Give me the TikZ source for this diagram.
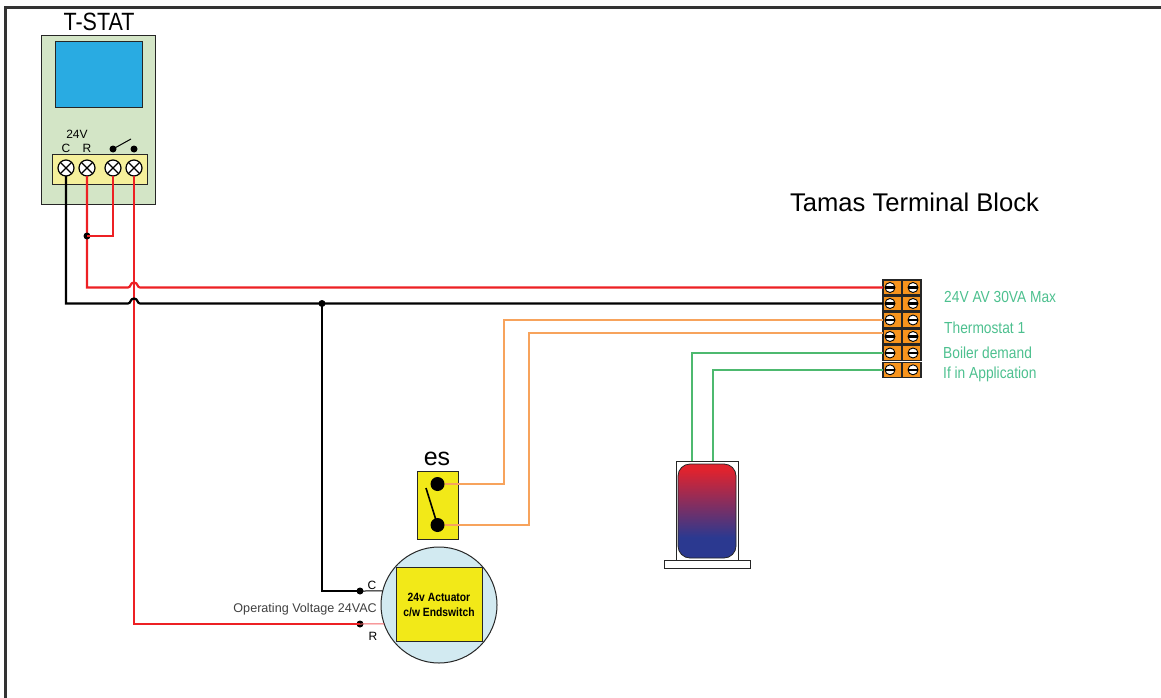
\documentclass[tikz,border=0pt]{standalone}
\usepackage{fontspec}
\setmainfont{Liberation Sans}
\newfontfamily\narrowfont[FakeStretch=0.86]{Liberation Sans}
\usepackage{xcolor}
\usetikzlibrary{positioning}
\definecolor{statgreen}{HTML}{D3E5C6}
\definecolor{screenblue}{HTML}{29ABE2}
\definecolor{stripyellow}{HTML}{F5F09B}
\definecolor{blockorange}{HTML}{F7941D}
\definecolor{wirered}{HTML}{ED2024}
\definecolor{wireorange}{HTML}{F7A35C}
\definecolor{wiregreen}{HTML}{4DB96F}
\definecolor{labelgreen}{HTML}{4DC08F}
\definecolor{partyellow}{HTML}{F2E918}
\definecolor{actblue}{HTML}{D2EAF1}
\definecolor{tankred}{HTML}{E0232E}
\definecolor{tankblue}{HTML}{2B3990}
\pgfdeclareverticalshading{tankshade}{100bp}{color(0bp)=(tankblue); color(36bp)=(tankblue); color(72bp)=(tankred); color(100bp)=(tankred)}

\begin{document}
\begin{tikzpicture}[x=1pt,y=-1pt,
    panel/.style={draw=black!85,line width=1pt,inner sep=0pt,outer sep=0pt},
    crossscrew/.style={circle,draw=black,fill=white,line width=1.2pt,minimum size=16pt,inner sep=0pt,outer sep=0pt},
    slotscrew/.style={circle,draw=black,fill=white,line width=0.9pt,minimum size=10pt,inner sep=0pt,outer sep=0pt},
    blockcell/.style={panel,fill=blockorange,line width=1.1pt,minimum width=19pt,minimum height=15pt},
    joint/.style={circle,fill=black,minimum size=#1,inner sep=0pt,outer sep=0pt},
    redwire/.style={draw=wirered,line width=2.2pt},
    blackwire/.style={draw=black,line width=2.2pt},
    orangewire/.style={draw=wireorange,line width=1.5pt},
    greenwire/.style={draw=wiregreen,line width=1.5pt},
    greenlabel/.style={text=labelgreen,anchor=west,inner sep=0pt,font=\narrowfont\fontsize{16}{18}\selectfont},
    smalltext/.style={inner sep=0pt,font=\fontsize{12}{14}\selectfont}]
    \useasboundingbox (0,0) rectangle (1161,698);

    % Outer frame
    \draw[black!80,line width=3pt] (5.3,698) -- (5.3,7.3) -- (1161,7.3);

    % Thermostat
    \node[panel,fill=statgreen,minimum width=114pt,minimum height=169pt] (tstat) at (98,120) {};
    \node[panel,fill=screenblue,minimum width=87pt,minimum height=66pt] (screen) at (98.5,74.5) {};
    \node[panel,fill=stripyellow,minimum width=95pt,minimum height=30pt] (strip) at (99.5,169) {};
    \node[inner sep=0pt,font=\narrowfont\fontsize{25}{27}\selectfont] (tstatlabel) at (99,21.5) {T-STAT};
    \node[smalltext] (lab24) at (77,134) {24V};
    \node[smalltext] (labC) at (66,148) {C};
    \node[smalltext] (labR) at (87,148) {R};
    \node[joint=7pt] (swA) at (113,149) {};
    \node[joint=7pt] (swB) at (134,149) {};
    \draw[black,line width=1pt] (swA.center) -- (131,139);

    % Terminal block
    \foreach \n/\y in {1/287.5,2/303.5,3/320,4/336.5,5/353,6/369.8} {
        \node[blockcell] (tbL\n) at (892.5,\y) {};
        \node[blockcell] (tbR\n) at (911.5,\y) {};
    }
    \node[inner sep=0pt,font=\fontsize{25.6}{28}\selectfont] (tblabel) at (914.5,202) {Tamas Terminal Block};
    \node[greenlabel] (lab30va) at (944,297) {24V AV 30VA Max};
    \node[greenlabel] (labtherm) at (944,328) {Thermostat 1};
    \node[greenlabel] (labboiler) at (943,353) {Boiler demand};
    \node[greenlabel] (labapp) at (943,374) {If in Application};

    % End switch
    \node[panel,fill=partyellow,minimum width=41pt,minimum height=68pt] (es) at (437.5,505) {};
    \node[inner sep=0pt,font=\fontsize{25}{27}\selectfont] (eslabel) at (437,459) {es};
    \node[joint=14pt] (esA) at (437.5,484) {};
    \node[joint=14pt] (esB) at (437.5,525) {};
    \draw[black,line width=1.6pt] (426,488) -- (esB.center);

    % Actuator
    \node[circle,draw=black!85,fill=actblue,line width=1pt,minimum size=116pt,inner sep=0pt,outer sep=0pt] (act) at (439,605) {};
    \node[panel,fill=partyellow,minimum width=86pt,minimum height=74pt,align=center,
        font=\narrowfont\bfseries\fontsize{12}{15}\selectfont] (actbox) at (439,604.5) {24v Actuator\\c/w Endswitch};
    \node[joint=7pt] (actC) at (360,591) {};
    \node[joint=7pt] (actR) at (360,624) {};
    \node[smalltext] (labactC) at (372,585) {C};
    \node[smalltext] (labactR) at (373,636) {R};
    \node[smalltext,text=black!75,font=\fontsize{12.6}{14}\selectfont,anchor=east] (labvolt) at (377,609) {Operating Voltage 24VAC};

    % Cylinder
    \node[panel,fill=white,minimum width=62pt,minimum height=100pt] (tank) at (707,511) {};
    \node[panel,fill=white,minimum width=86pt,minimum height=8pt] (tankbase) at (707,564.5) {};
    \node[draw=black!85,line width=0.8pt,rounded corners=12pt,minimum width=58pt,minimum height=94pt,inner sep=0pt,
        shading=tankshade] (tankbody) at (707,511) {};
    \coordinate (tankA) at (692,461);
    \coordinate (tankB) at (713,461);

    % Screws
    \foreach \name/\x in {scC/66,scR/87,scS/113,scT/134} {
        \node[crossscrew] (\name) at (\x,168) {};
        \draw[black,line width=1.1pt] (\name.45) -- (\name.225) (\name.135) -- (\name.315);
    }
    \foreach \n/\y in {1/287.5,2/303.5,3/320,4/336.5,5/353,6/369.8} {
        \foreach \side/\x in {L/890,R/913} {
            \node[slotscrew] (slot\side\n) at (\x,\y) {};
            \fill[black] (slot\side\n.west) ++(0,-1.3) rectangle ([yshift=-1.3pt]slot\side\n.east);
        }
    }

    % Red wires
    \draw[redwire] (scT.south) |- (actR.center);
    \draw[redwire] (scR.south) |- (128,287.5) .. controls (131,287.5) and (130,282.5) .. (134,282.5)
        .. controls (138,282.5) and (137,287.5) .. (140,287.5) -- (tbL1.west);
    \node[joint=7pt] (jumper) at (87,236) {};
    \draw[redwire] (scS.south) |- (jumper.center);
    \draw[wirered!70,line width=1pt] (actR.center) -- (act.199);

    % Black wires
    \draw[blackwire] (scC.south) |- (128,303.5) .. controls (131,303.5) and (130,298.5) .. (134,298.5)
        .. controls (138,298.5) and (137,303.5) .. (140,303.5) -- (tbL2.west);
    \node[joint=7pt] (jnC) at (322,303.5) {};
    \draw[blackwire] (jnC.center) |- (actC.center);
    \draw[black,line width=1pt] (actC.center) -- (act.166);

    % Orange wires
    \draw[orangewire] (esA.east) -| (504,320) -- (tbL3.west);
    \draw[orangewire] (esB.east) -| (529,333) -- ([yshift=3.5pt]tbL4.west);

    % Green wires
    \draw[greenwire] (tankA) |- (tbL5.west);
    \draw[greenwire] (tankB) |- (tbL6.west);
\end{tikzpicture}
\end{document}
